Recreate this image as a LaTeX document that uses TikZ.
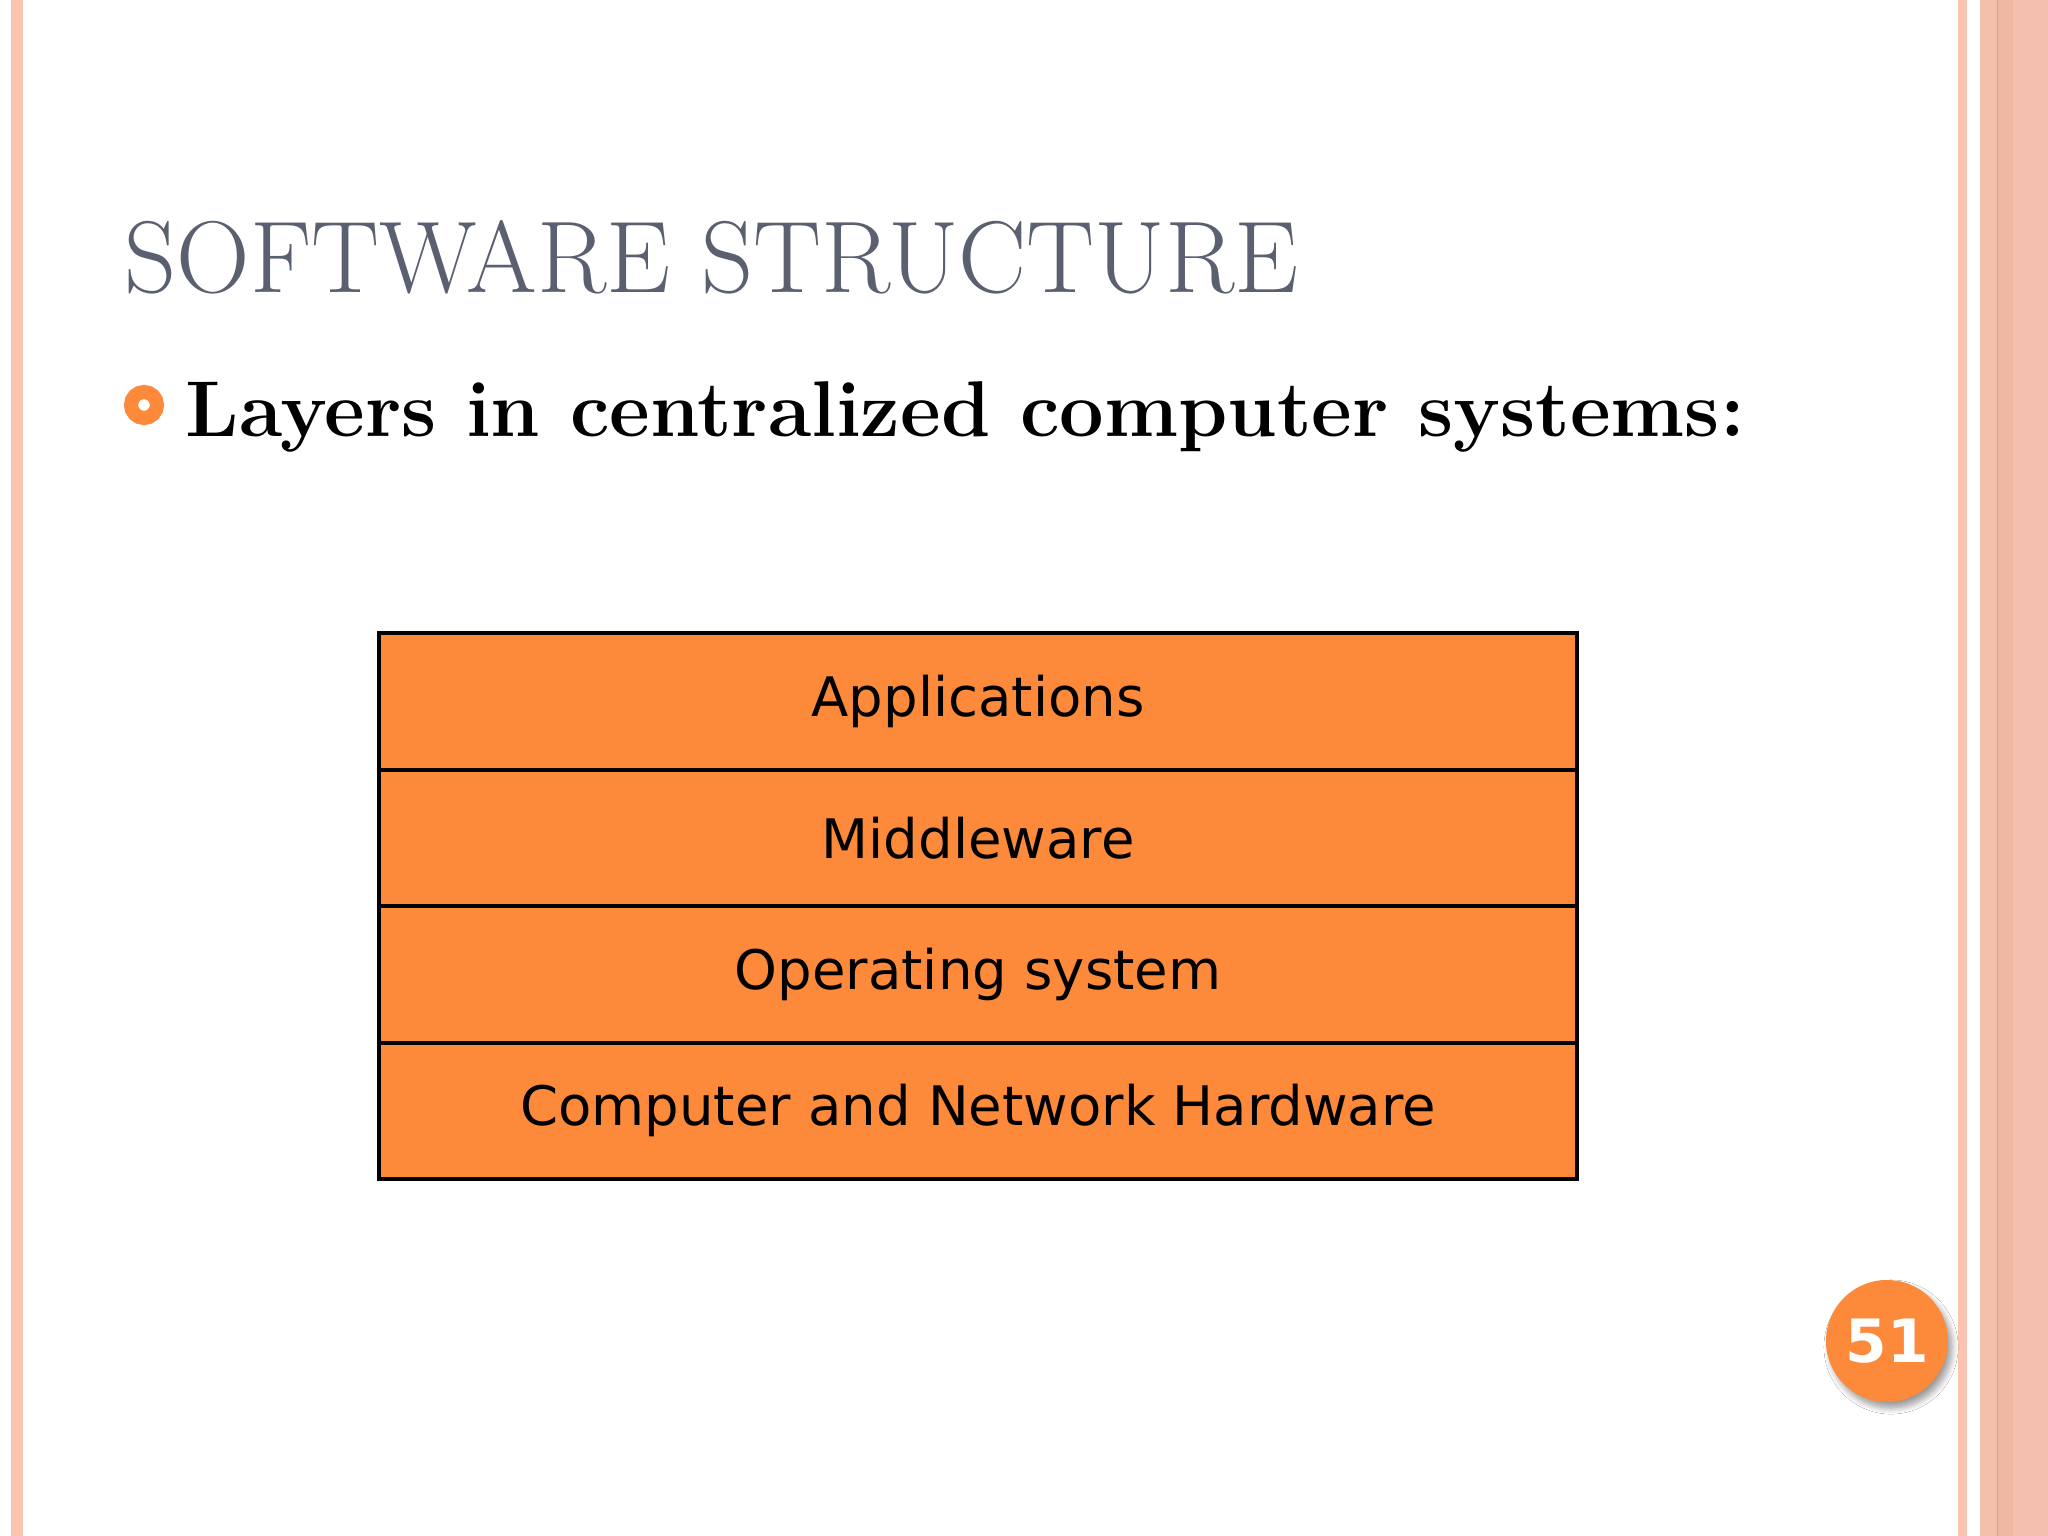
\documentclass[tikz,border=0pt]{standalone}
\usepackage{fontspec}
\newfontfamily\verd{DejaVu Sans}
\usetikzlibrary{shadows.blur}
\definecolor{stripe}{HTML}{FBC4B0}
\definecolor{band}{HTML}{F2C0AC}
\definecolor{bandb}{HTML}{EFB8A2}
\definecolor{orng}{HTML}{FD8A3B}
\definecolor{ttl}{HTML}{5A6070}
\tikzset{layer/.style={draw=black,line width=1.2pt,fill=orng,minimum width=11.98cm,minimum height=1.365cm,inner sep=0pt,font=\verd\fontsize{15.5}{18}\selectfont,anchor=north west}}
\begin{document}
\begin{tikzpicture}[x=1cm,y=-1cm]
\useasboundingbox (0,0) rectangle (20.48,15.36);
\fill[white] (0,0) rectangle (20.48,15.36);
\fill[stripe] (0.11,0) rectangle (0.23,15.36);
\fill[stripe] (19.58,0) rectangle (19.67,15.36);
\fill[band] (19.80,0) rectangle (20.48,15.36);
\fill[bandb] (19.97,0) rectangle (20.13,15.36);
\fill[orng!80!band] (19.965,0) rectangle (19.98,15.36);
\node[anchor=base west,text=ttl,font=\fontsize{29}{34}\selectfont,inner sep=0pt] (title) at (1.24,2.93) {SOFTWARE STRUCTURE};
\node[draw=orng,line width=4pt,circle,minimum size=0.26cm,inner sep=0pt] (bul) at (1.44,4.05) {};
\node[anchor=base west,font=\bfseries\fontsize{22.5}{27}\selectfont,inner sep=0pt] (sub) at (1.85,4.37) {Layers in centralized computer systems:};
\node[layer] (app) at (3.77,6.31) {Applications};
\node[layer] (mid) at (3.77,7.675) {Middleware};
\node[layer] (os) at (3.77,9.04) {Operating system};
\node[layer] (hw) at (3.77,10.405) {Computer and Network Hardware};
\node[circle,fill=orng,minimum size=1.22cm,inner sep=0pt,text=white,font=\verd\bfseries\fontsize{17}{20}\selectfont,blur shadow={shadow blur steps=8,shadow xshift=0.04cm,shadow yshift=-0.06cm}] (pg) at (18.87,13.41) {51};
\end{tikzpicture}
\end{document}
